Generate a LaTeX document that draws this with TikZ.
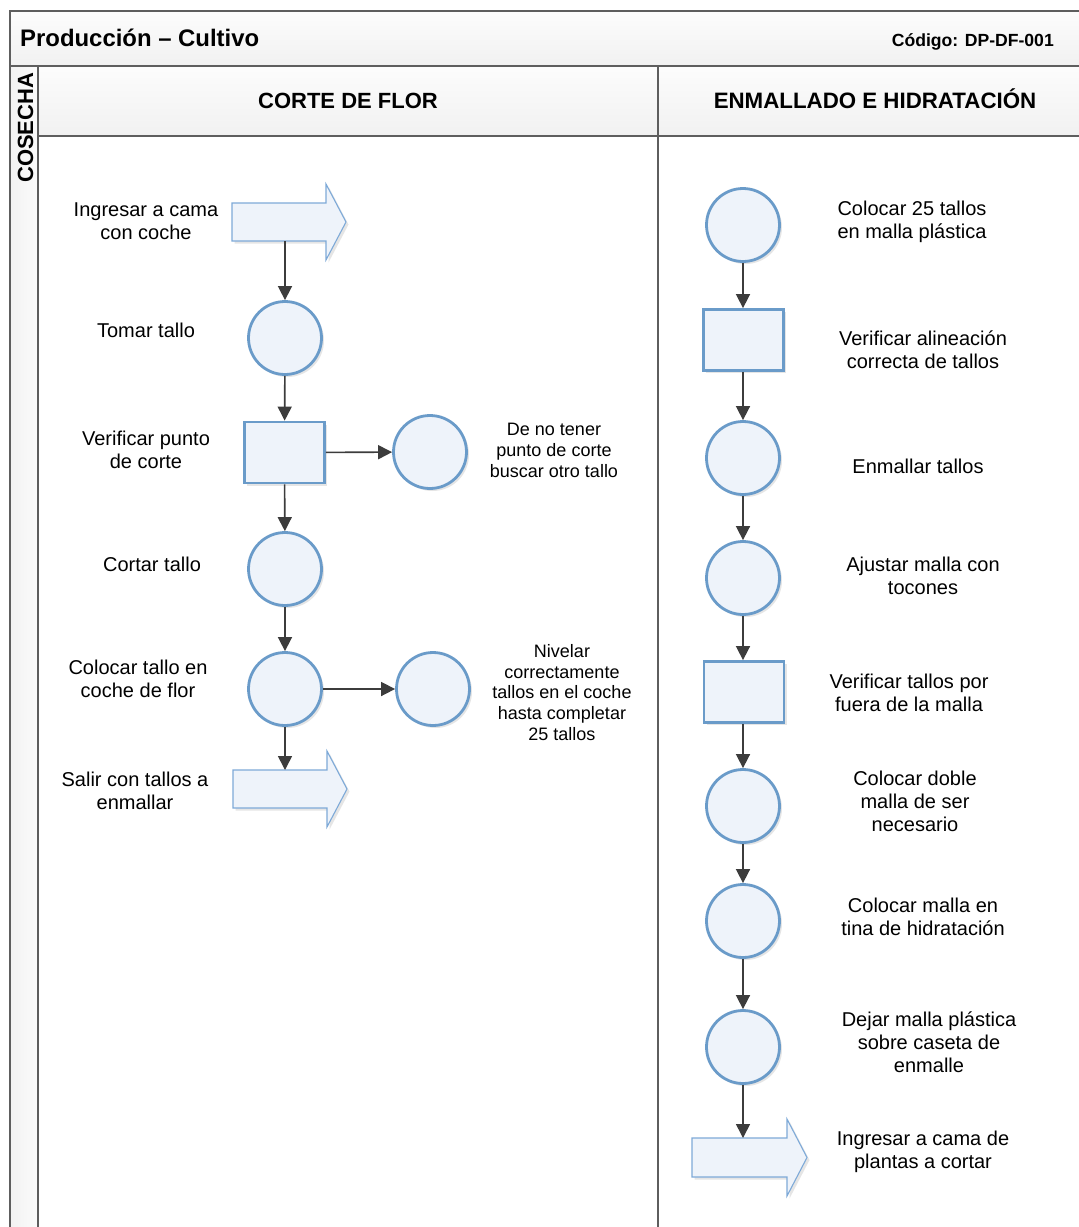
\documentclass[tikz,border=0pt]{standalone}
\usepackage{fontspec}
\setmainfont{Liberation Sans}
\usetikzlibrary{arrows.meta,calc,shadows}

\definecolor{shapefill}{HTML}{EEF3FA}
\definecolor{shapeline}{HTML}{6A9BC9}
\definecolor{blockline}{HTML}{7EAAD8}
\definecolor{frameline}{HTML}{5E5E5E}
\definecolor{connline}{HTML}{3C3C3C}

\tikzset{
  softshadow/.style={drop shadow={shadow xshift=2.5pt, shadow yshift=-2.5pt, opacity=.22, fill=black!45}},
  opcircle/.style={circle, draw=shapeline, fill=shapefill, line width=2.8pt,
    minimum size=73pt, inner sep=0pt, softshadow},
  checkbox/.style={rectangle, draw=shapeline, fill=shapefill, line width=2.8pt,
    minimum width=80pt, minimum height=61pt, inner sep=0pt, softshadow},
  arrowbody/.style={rectangle, minimum width=94pt, minimum height=38pt, inner sep=0pt, outer sep=0pt},
  blockarrow/.style={draw=blockline, fill=shapefill, line width=1.1pt, line join=miter, softshadow},
  flow/.style={draw=connline, line width=1.6pt, -{Triangle[width=14pt,length=14pt]}},
  frame/.style={draw=frameline, line width=1.8pt},
  txt/.style={align=center, inner sep=0pt, font=\fontsize{20}{23}\selectfont},
  smalltxt/.style={align=center, inner sep=0pt, font=\fontsize{18}{20.7}\selectfont},
  headtxt/.style={inner sep=0pt, font=\bfseries\fontsize{22}{26}\selectfont},
}

% block arrow outline built around a named body node
\newcommand{\blockoutline}[1]{%
  \path[blockarrow] (#1.north west) -- (#1.north east) -- ++(0,-19)
    -- ($(#1.east)+(20,0)$) -- ($(#1.south east)+(0,19)$)
    -- (#1.south east) -- (#1.south west) -- cycle;}

\begin{document}
\begin{tikzpicture}[x=1pt, y=-1pt]
\useasboundingbox (0,0) rectangle (1079,1227);
\fill[white] (0,0) rectangle (1079,1227);

% header bands
\fill[top color=gray!2, bottom color=gray!11] (10,11) rectangle (1090,66);
\fill[top color=gray!2, bottom color=gray!11] (38,66) rectangle (1090,136);
\fill[left color=gray!10, right color=gray!3] (10,66) rectangle (38,1240);

% frame lines
\draw[frame] (1090,11) -- (10,11) -- (10,1240);
\draw[frame] (10,66) -- (1090,66);
\draw[frame] (38,136) -- (1090,136);
\draw[frame] (38,66) -- (38,1240);
\draw[frame] (658,66) -- (658,1240);

% titles
\node[inner sep=0pt, anchor=base west, font=\bfseries\fontsize{23.9}{28}\selectfont] (title) at (20,46) {Producción – Cultivo};
\node[inner sep=0pt, anchor=base east, font=\bfseries\fontsize{17.6}{20}\selectfont] (code) at (1054,46) {Código: DP-DF-001};
\node[headtxt, anchor=base] (lane1) at (348,108) {CORTE DE FLOR};
\node[headtxt, anchor=base, font=\bfseries\fontsize{22.3}{26}\selectfont] (lane2) at (875,108) {ENMALLADO E HIDRATACIÓN};
\node[headtxt, anchor=base west, rotate=90] (pool) at (33,183) {COSECHA};

% ---- Corte de flor ----
\node[arrowbody] (a1) at (279,222) {};
\blockoutline{a1}
\node[opcircle] (c1) at (285,338) {};
\node[checkbox] (s1) at (284.5,452.5) {};
\node[opcircle] (c1r) at (430,452) {};
\node[opcircle] (c2) at (285,569) {};
\node[opcircle] (c3) at (285,689) {};
\node[opcircle] (c3r) at (433,689) {};
\node[arrowbody] (a2) at (280,789) {};
\blockoutline{a2}

\draw[flow] (c1.north |- a1.south) -- (c1.north);
\draw[flow] (c1) -- (s1);
\draw[flow] (s1) -- (c1r);
\draw[flow] (s1) -- (c2);
\draw[flow] (c2) -- (c3);
\draw[flow] (c3) -- (c3r);
\draw[flow] (c3.south) -- (c3.south |- a2.north);

\node[txt] (t1) at (146,221.5) {Ingresar a cama\\con coche};
\node[txt] (t2) at (146,330) {Tomar tallo};
\node[txt] (t3) at (146,449.5) {Verificar punto\\de corte};
\node[smalltxt] (t3r) at (554,450.5) {De no tener\\punto de corte\\buscar otro tallo};
\node[txt] (t4) at (152,564) {Cortar tallo};
\node[txt] (t5) at (138,678.5) {Colocar tallo en\\coche de flor};
\node[smalltxt] (t5r) at (562,692.5) {Nivelar\\correctamente\\tallos en el coche\\hasta completar\\25 tallos};
\node[txt] (t6) at (135,790.5) {Salir con tallos a\\enmallar};

% ---- Enmallado e hidratacion ----
\node[opcircle] (d1) at (743,225) {};
\node[checkbox] (d2) at (743.5,340) {};
\node[opcircle] (d3) at (743,458) {};
\node[opcircle] (d4) at (743,578) {};
\node[checkbox] (d5) at (744,692) {};
\node[opcircle] (d6) at (743,806) {};
\node[opcircle] (d7) at (743,921) {};
\node[opcircle] (d8) at (743,1047) {};
\node[arrowbody, minimum width=95pt, minimum height=39pt] (b1) at (739.5,1157.5) {};
\blockoutline{b1}

\draw[flow] (d1) -- (d1 |- d2.north);
\draw[flow] (d1 |- d2.south) -- (d3);
\draw[flow] (d3) -- (d4);
\draw[flow] (d4) -- (d4 |- d5.north);
\draw[flow] (d4 |- d5.south) -- (d6);
\draw[flow] (d6) -- (d7);
\draw[flow] (d7) -- (d8);
\draw[flow] (d8.south) -- (d8.south |- b1.north);

\node[txt] (u1) at (912,221.5) {Colocar 25 tallos\\en malla plástica};
\node[txt] (u2) at (923,349.5) {Verificar alineación\\correcta de tallos};
\node[txt] (u3) at (918,466) {Enmallar tallos};
\node[txt] (u4) at (923,575.5) {Ajustar malla con\\tocones};
\node[txt] (u5) at (909,692.5) {Verificar tallos por\\fuera de la malla};
\node[txt] (u6) at (915,801) {Colocar doble\\malla de ser\\necesario};
\node[txt] (u7) at (923,916.5) {Colocar malla en\\tina de hidratación};
\node[txt] (u8) at (929,1042) {Dejar malla plástica\\sobre caseta de\\enmalle};
\node[txt] (u9) at (923,1151.5) {Ingresar a cama de\\plantas a cortar};
\end{tikzpicture}
\end{document}
